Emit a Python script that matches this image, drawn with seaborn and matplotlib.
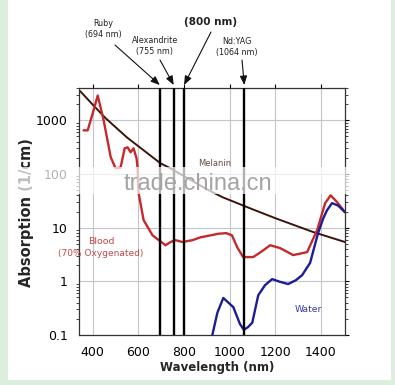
import matplotlib
matplotlib.use("Agg")
import matplotlib.pyplot as plt
import matplotlib.patches as mpatches
from matplotlib.ticker import FixedLocator, FuncFormatter, LogLocator, NullFormatter
import seaborn as sns

# absorption spectra (nm, 1/cm)
melanin_nm = [345, 400, 457, 550, 697, 740, 800, 900, 968, 1100, 1200, 1365, 1505]
melanin_abs = [3500, 1960, 1090, 480, 158, 128, 91, 52, 37, 22, 15, 8.3, 5.4]

blood_nm = [360, 378, 400, 422, 448, 479, 500, 522, 540, 553, 566, 579, 592, 597,
            601, 623, 662, 719, 741, 762, 793, 837, 872, 910, 950, 985, 1010, 1033,
            1059, 1103, 1140, 1177, 1221, 1278, 1339, 1383, 1418, 1442, 1470, 1505]
blood_abs = [650, 650, 1350, 2900, 1000, 205, 128, 131, 301, 314, 254, 301, 196, 128,
             44, 13.8, 7.2, 4.7, 5.4, 5.85, 5.4, 5.85, 6.6, 7.1, 7.7, 7.9, 7.2, 4.3,
             2.83, 2.83, 3.6, 4.7, 4.16, 3.08, 3.5, 9.0, 28.6, 40, 30, 19.4]

water_nm = [924, 946, 972, 1016, 1045, 1062, 1080, 1099, 1125, 1155, 1186, 1220, 1256,
            1290, 1317, 1352, 1387, 1410, 1426, 1448, 1474, 1505]
water_abs = [0.1, 0.26, 0.49, 0.33, 0.16, 0.125, 0.14, 0.17, 0.55, 0.85, 1.1, 0.98, 0.89,
             1.05, 1.3, 2.2, 7.9, 15, 21, 28.6, 26, 19.4]

laser_nm = [694, 755, 800, 1064]
laser_labels = ["Ruby\n(694 nm)", "Alexandrite\n(755 nm)", "(800 nm)", "Nd:YAG\n(1064 nm)"]

x_ticks = [400, 600, 800, 1000, 1200, 1400]
y_ticks = [0.1, 1, 10, 100, 1000]

sns.set_theme(style="white")
plt.rcParams["font.family"] = ["DejaVu Sans"]

fig = plt.figure(figsize=(3.95, 3.85), dpi=100)
fig.patch.set_facecolor("#dcefdf")
fig.add_artist(mpatches.Rectangle((8 / 395, 5 / 385), 383 / 395, 380 / 385,
                                  transform=fig.transFigure, facecolor="white",
                                  edgecolor="none", zorder=-1))

ax = fig.add_axes([79 / 395, 50 / 385, 266 / 395, 247 / 385])
ax.set_yscale("log")

sns.lineplot(x=melanin_nm, y=melanin_abs, ax=ax, color="#3c140a", lw=1.4, sort=False)
sns.lineplot(x=blood_nm, y=blood_abs, ax=ax, color="#c42a2c", lw=1.7, sort=False)
sns.lineplot(x=water_nm, y=water_abs, ax=ax, color="#1c1c96", lw=1.7, sort=False)

for nm in laser_nm:
    ax.axvline(nm, color="black", lw=1.7, zorder=5)

ax.set_xlim(340, 1505)
ax.set_ylim(0.1, 4000)
ax.xaxis.set_major_locator(FixedLocator(x_ticks))
ax.yaxis.set_major_locator(FixedLocator(y_ticks))
ax.yaxis.set_major_formatter(FuncFormatter(lambda v, p: f"{v:g}"))
ax.yaxis.set_minor_locator(LogLocator(base=10, subs=range(2, 10)))
ax.yaxis.set_minor_formatter(NullFormatter())
ax.grid(True, which="major", color="#c4c4cc", lw=0.8)
ax.tick_params(axis="both", which="major", direction="out", length=3, width=0.8,
               labelsize=9, pad=5, top=True, right=True, colors="black")
ax.tick_params(axis="y", which="minor", direction="out", length=2, width=0.6,
               left=True, right=True)
for sp in ax.spines.values():
    sp.set_color("#333333")
    sp.set_linewidth(0.9)

fig.text(217 / 395, 1 - 368 / 385, "Wavelength (nm)", fontsize=8.5, fontweight="bold",
         ha="center", va="center")
fig.text(27 / 395, 1 - 213 / 385, "Absorption (1/cm)", fontsize=10.5, fontweight="bold",
         rotation=90, ha="center", va="center")

# laser labels and arrows
text_pos = [(103, 29), (155, 46), (211, 22), (237, 47)]
arrow_start = [(115, 45), (160, 60), (211, 32), (242, 60)]
for nm, lab, (tx, ty), (sx, sy) in zip(laser_nm, laser_labels, text_pos, arrow_start):
    bold = lab.startswith("(")
    fig.text(tx / 395, 1 - ty / 385, lab, ha="center", va="center",
             fontsize=7.5 if bold else 5.8, fontweight="bold" if bold else "normal",
             color="#222222", linespacing=1.25)
    ax.annotate("", xy=(nm, 1.012), xycoords=("data", "axes fraction"),
                xytext=(sx / 395, 1 - sy / 385), textcoords="figure fraction",
                arrowprops=dict(arrowstyle="-|>,head_length=0.45,head_width=0.18",
                                color="#111111", lw=0.8, shrinkA=0, shrinkB=0))

fig.text(101 / 395, 1 - 241 / 385, "Blood", fontsize=6.8, color="#c44848",
         ha="center", va="center")
fig.text(101 / 395, 1 - 254 / 385, "(70% Oxygenated)", fontsize=6.5, color="#c44848",
         ha="center", va="center")
fig.text(308 / 395, 1 - 310 / 385, "Water", fontsize=6.7, color="#3838a0",
         ha="center", va="center")
fig.text(215 / 395, 1 - 163 / 385, "Melanin", fontsize=6, color="#6a4a40",
         ha="center", va="center")

# watermark band from the source image
fig.add_artist(mpatches.Rectangle((15 / 395, 1 - 194 / 385), 340 / 395, 27 / 385,
                                  transform=fig.transFigure, facecolor="white",
                                  edgecolor="none", alpha=0.7, zorder=10))
fig.text(198 / 395, 1 - 184 / 385, "trade.china.cn", fontsize=17, color="#a4a4a4",
         family="Liberation Sans", ha="center", va="center", zorder=11)

fig.savefig("out.png", dpi=100)
plt.close(fig)
